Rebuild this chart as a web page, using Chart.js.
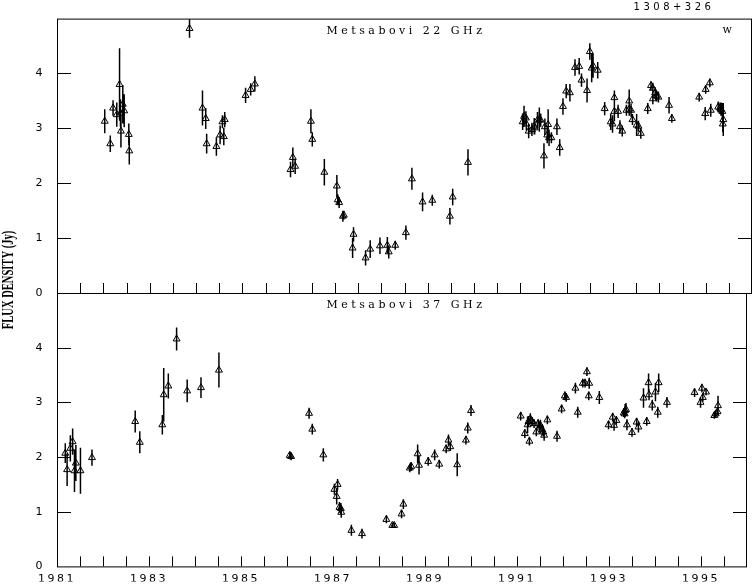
<!DOCTYPE html>
<html>
<head>
<meta charset="utf-8">
<script src="https://cdn.jsdelivr.net/npm/chart.js@4.4.0/dist/chart.umd.min.js"></script>
<style>
  body { margin: 0; background: #fff; }
  #wrap { position: relative; width: 753px; height: 585px; }
  #wrap canvas { position: absolute; left: 0; top: 0; }
</style>
</head>
<body>
<div id="wrap">
  <canvas id="c22" width="753" height="585"></canvas>
  <canvas id="c37" width="753" height="585"></canvas>
</div>
<script>
const sourceName = '1308+326'
const label22 = 'Metsabovi 22 GHz'
const label37 = 'Metsabovi 37 GHz'
const cornerMark = 'w'
const yTitle = 'FLUX DENSITY (Jy)'

// 22 GHz
const yr22 = [1982.03, 1982.15, 1982.21, 1982.29, 1982.35, 1982.37, 1982.38, 1982.42, 1982.45, 1982.55, 1982.56,
  1983.86, 1984.14, 1984.21, 1984.23, 1984.44, 1984.52, 1984.57, 1984.60, 1984.62, 1985.07, 1985.18, 1985.27,
  1986.04, 1986.09, 1986.14, 1986.48, 1986.51, 1986.77, 1987.04, 1987.06, 1987.09, 1987.17, 1987.19, 1987.38,
  1987.40, 1987.66, 1987.76, 1987.97, 1988.13, 1988.16, 1988.30, 1988.53, 1988.66, 1988.89, 1989.10, 1989.48,
  1989.54, 1989.87,
  1991.05, 1991.08, 1991.12, 1991.13, 1991.18, 1991.25, 1991.30, 1991.31, 1991.37, 1991.41, 1991.44, 1991.51,
  1991.53, 1991.58, 1991.60, 1991.62, 1991.67, 1991.79, 1991.85, 1991.92, 1991.99, 1992.07, 1992.18, 1992.27,
  1992.32, 1992.44, 1992.50, 1992.54, 1992.57, 1992.67, 1992.82, 1992.95, 1992.99, 1993.03, 1993.03, 1993.11,
  1993.15, 1993.20, 1993.29, 1993.35, 1993.35, 1993.39, 1993.42, 1993.51, 1993.55, 1993.60, 1993.75, 1993.82,
  1993.86, 1993.86, 1993.91, 1993.94, 1993.98, 1994.21, 1994.27, 1994.86, 1994.99, 1995.00, 1995.09, 1995.11,
  1995.27, 1995.31, 1995.33, 1995.36, 1995.38, 1995.37]
const flux22 = [3.13, 2.72, 3.37, 3.25, 3.80, 3.28, 2.95, 3.44, 3.32, 2.89, 2.59,
  4.82, 3.37, 3.18, 2.72, 2.67, 2.88, 3.12, 2.85, 3.16, 3.60, 3.71, 3.81,
  2.25, 2.47, 2.31, 3.13, 2.80, 2.20, 1.95, 1.70, 1.65, 1.40, 1.42, 0.82,
  1.07, 0.64, 0.80, 0.86, 0.87, 0.75, 0.87, 1.10, 2.08, 1.66, 1.69, 1.40,
  1.75, 2.38,
  3.12, 3.22, 3.19, 3.08, 2.95, 2.98, 3.04, 3.01, 3.15, 3.16, 3.15, 2.50,
  3.03, 2.88, 3.07, 2.83, 2.83, 3.03, 2.65, 3.40, 3.68, 3.65, 4.11, 4.13,
  3.88, 3.69, 4.40, 4.10, 4.14, 4.06, 3.36, 3.12, 3.08, 3.56, 3.31, 3.31,
  3.03, 2.95, 3.33, 3.50, 3.35, 3.33, 3.16, 3.06, 3.04, 2.91, 3.36, 3.78,
  3.73, 3.54, 3.65, 3.59, 3.57, 3.42, 3.18, 3.57, 3.27, 3.71, 3.83, 3.33,
  3.39, 3.37, 3.35, 3.31, 3.16, 3.08]
const err22 = [0.22, 0.15, 0.14, 0.22, 0.66, 0.25, 0.30, 0.35, 0.30, 0.20, 0.25,
  0.17, 0.32, 0.19, 0.18, 0.17, 0.17, 0.12, 0.16, 0.14, 0.14, 0.11, 0.14,
  0.14, 0.18, 0.14, 0.22, 0.13, 0.24, 0.20, 0.10, 0.10, 0.10, 0.08, 0.18,
  0.13, 0.14, 0.16, 0.15, 0.15, 0.12, 0.08, 0.13, 0.20, 0.17, 0.10, 0.15,
  0.15, 0.24,
  0.15, 0.19, 0.12, 0.12, 0.13, 0.12, 0.15, 0.12, 0.15, 0.22, 0.12, 0.23,
  0.15, 0.15, 0.28, 0.15, 0.10, 0.15, 0.15, 0.15, 0.13, 0.16, 0.15, 0.15,
  0.12, 0.22, 0.15, 0.26, 0.22, 0.15, 0.12, 0.15, 0.16, 0.13, 0.18, 0.12,
  0.12, 0.10, 0.10, 0.21, 0.12, 0.12, 0.10, 0.20, 0.10, 0.10, 0.10, 0.08,
  0.10, 0.10, 0.10, 0.10, 0.10, 0.15, 0.08, 0.08, 0.12, 0.08, 0.08, 0.12,
  0.10, 0.10, 0.12, 0.15, 0.30, 0.15]

// 37 GHz
const yr37 = [1981.18, 1981.22, 1981.29, 1981.34, 1981.38, 1981.41, 1981.51, 1981.76, 1982.70, 1982.80,
  1983.29, 1983.32, 1983.42, 1983.60, 1983.83, 1984.13, 1984.52,
  1986.06, 1986.09, 1986.48, 1986.55, 1986.79, 1987.03, 1987.08, 1987.10, 1987.14, 1987.17, 1987.18,
  1987.40, 1987.63, 1988.16, 1988.29, 1988.33, 1988.49, 1988.53, 1988.67, 1988.70, 1988.84, 1988.87,
  1989.07, 1989.21, 1989.31, 1989.46, 1989.51, 1989.55, 1989.70, 1989.89, 1989.93, 1990.00,
  1991.08, 1991.17, 1991.23, 1991.25, 1991.27, 1991.29, 1991.33, 1991.37, 1991.42, 1991.46, 1991.49,
  1991.51, 1991.55, 1991.57, 1991.59, 1991.66, 1991.87, 1991.97, 1992.04, 1992.07, 1992.27, 1992.32,
  1992.43, 1992.48, 1992.52, 1992.56, 1992.57, 1992.79, 1992.99, 1993.08, 1993.11, 1993.16, 1993.32,
  1993.34, 1993.35, 1993.37, 1993.39, 1993.50, 1993.60, 1993.64, 1993.75, 1993.82, 1993.86, 1993.87,
  1993.94, 1994.01, 1994.06, 1994.08, 1994.26, 1994.86, 1994.99, 1995.02, 1995.04, 1995.11, 1995.29,
  1995.32, 1995.36, 1995.37]
const flux37 = [2.07, 1.77, 2.16, 2.28, 1.75, 1.89, 1.75, 1.99, 2.65, 2.27,
  2.59, 3.14, 3.30, 4.16, 3.21, 3.27, 3.59,
  2.03, 2.01, 2.80, 2.51, 2.04, 1.41, 1.28, 1.50, 1.08, 1.06, 0.99,
  0.66, 0.60, 0.86, 0.75, 0.75, 0.96, 1.14, 1.80, 1.83, 2.06, 1.85,
  1.92, 2.04, 1.87, 2.15, 2.31, 2.19, 1.86, 2.31, 2.53, 2.85,
  2.75, 2.43, 2.59, 2.65, 2.29, 2.70, 2.65, 2.61, 2.46, 2.61, 2.55,
  2.58, 2.50, 2.46, 2.40, 2.68, 2.38, 2.88, 3.12, 3.09, 3.26, 2.82,
  3.35, 3.35, 3.56, 3.12, 3.35, 3.09, 2.59, 2.73, 2.58, 2.67, 2.81,
  2.79, 2.85, 2.87, 2.59, 2.45, 2.64, 2.55, 3.08, 2.65, 3.36, 3.14,
  2.95, 3.19, 2.82, 3.36, 3.00, 3.18, 3.00, 3.26, 3.09, 3.19, 2.76,
  2.79, 2.83, 2.94]
const err37 = [0.18, 0.30, 0.24, 0.24, 0.39, 0.33, 0.42, 0.15, 0.20, 0.20,
  0.18, 0.49, 0.23, 0.21, 0.21, 0.19, 0.32,
  0.07, 0.07, 0.10, 0.10, 0.12, 0.10, 0.15, 0.10, 0.10, 0.10, 0.10,
  0.10, 0.09, 0.07, 0.05, 0.05, 0.08, 0.09, 0.08, 0.08, 0.17, 0.17,
  0.08, 0.10, 0.08, 0.08, 0.10, 0.08, 0.21, 0.08, 0.10, 0.10,
  0.08, 0.08, 0.15, 0.10, 0.08, 0.10, 0.08, 0.08, 0.08, 0.08, 0.10,
  0.10, 0.10, 0.08, 0.10, 0.08, 0.10, 0.08, 0.08, 0.08, 0.10, 0.10,
  0.08, 0.08, 0.08, 0.08, 0.10, 0.12, 0.08, 0.08, 0.10, 0.08, 0.08,
  0.08, 0.12, 0.12, 0.10, 0.08, 0.08, 0.10, 0.18, 0.08, 0.17, 0.10,
  0.10, 0.17, 0.10, 0.17, 0.10, 0.08, 0.10, 0.08, 0.08, 0.06, 0.06,
  0.06, 0.06, 0.18]

const fluxTicks = [0, 1, 2, 3, 4]
const yearLabels = [1981, 1983, 1985, 1987, 1989, 1991, 1993, 1995]
const yearMin = 1981
const yearMax = 1996
const fluxMax = 5
const minorStep = 0.5

Chart.defaults.font.family = 'DejaVu Sans'
Chart.defaults.font.size = 11
Chart.defaults.color = '#000'

function toPoints(xs, ys, es) {
    return xs.map((x, i) => ({ x: x, y: ys[i], e: es[i] }))
}

// frame, inward ticks, error bars, panel texts
const panelPlugin = {
    id: 'panel',
    beforeDraw(chart) {
        chart.ctx.letterSpacing = '2.5px'
    },
    beforeDatasetsDraw(chart) {
        let ctx = chart.ctx
        let xs = chart.scales.x, ys = chart.scales.y
        ctx.save()
        ctx.strokeStyle = '#000'
        ctx.lineWidth = 1.5
        ctx.beginPath()
        chart.data.datasets[0].data.forEach(p => {
            let px = xs.getPixelForValue(p.x)
            ctx.moveTo(px, ys.getPixelForValue(p.y - p.e))
            ctx.lineTo(px, ys.getPixelForValue(p.y + p.e))
        })
        ctx.stroke()
        ctx.restore()
    },
    afterDraw(chart, args, opts) {
        let ctx = chart.ctx
        let a = chart.chartArea
        let xs = chart.scales.x, ys = chart.scales.y
        ctx.save()
        ctx.strokeStyle = '#000'
        ctx.lineWidth = 1
        ctx.strokeRect(a.left + 0.5, a.top + 0.5, a.right - a.left - 1, a.bottom - a.top)
        ctx.beginPath()
        fluxTicks.forEach(v => {
            if (v <= 0) return
            let py = Math.round(ys.getPixelForValue(v)) + 0.5
            ctx.moveTo(a.left, py); ctx.lineTo(a.left + 14, py)
            ctx.moveTo(a.right - 14, py); ctx.lineTo(a.right, py)
        })
        for (let t = yearMin + minorStep; t < yearMax; t += minorStep) {
            let px = Math.round(xs.getPixelForValue(t)) + 0.5
            ctx.moveTo(px, a.bottom); ctx.lineTo(px, a.bottom - 10)
        }
        ctx.stroke()

        ctx.fillStyle = '#000'
        ctx.letterSpacing = '3.5px'
        ctx.font = '11px "DejaVu Serif"'
        ctx.textAlign = 'center'
        ctx.textBaseline = 'alphabetic'
        ctx.fillText(opts.label, 406, a.top + 15)
        if (opts.top) {
            ctx.fillText(cornerMark, 729, a.top + 14)
            ctx.font = '10px "DejaVu Sans"'
            ctx.fillText(sourceName, 674, 10)

            ctx.letterSpacing = '0px'
            ctx.translate(13, 280)
            ctx.rotate(-Math.PI / 2)
            ctx.scale(0.62, 1)
            ctx.font = 'bold 17px "Liberation Serif"'
            ctx.fillText(yTitle, 0, 0)
        }
        ctx.restore()
    }
}

function makeChart(id, points, label, isTop) {
    let ctx = document.getElementById(id).getContext('2d')
    let config = {
        type: 'scatter',
        data: {
            datasets: [{
                data: points,
                pointStyle: 'triangle',
                pointRadius: 4,
                borderWidth: 1,
                borderColor: '#000',
                backgroundColor: 'rgba(0,0,0,0)'
            }]
        },
        options: {
            responsive: false,
            animation: false,
            events: [],
            layout: {
                autoPadding: false,
                padding: isTop ? { top: 15, bottom: 292, left: 0, right: 1 } : { top: 293, bottom: 0, left: 0, right: 1 }
            },
            plugins: {
                legend: { display: false },
                tooltip: { enabled: false },
                panel: { label: label, top: isTop }
            },
            scales: {
                x: {
                    type: 'linear',
                    min: yearMin,
                    max: yearMax,
                    display: !isTop,
                    grid: { display: false, drawTicks: false },
                    border: { display: false },
                    afterFit: s => { if (!isTop) s.height = 15 },
                    ticks: {
                        stepSize: minorStep,
                        autoSkip: false,
                        maxRotation: 0,
                        minRotation: 0,
                        padding: 6,
                        callback: v => yearLabels.includes(v) ? String(v) : ''
                    }
                },
                y: {
                    min: 0,
                    max: fluxMax,
                    grid: { display: false, drawTicks: false },
                    border: { display: false },
                    afterFit: s => { s.width = 57 },
                    ticks: {
                        stepSize: 1,
                        padding: 12,
                        callback: v => fluxTicks.includes(v) ? String(v) : ''
                    }
                }
            }
        },
        plugins: [panelPlugin]
    }
    return new Chart(ctx, config)
}

console.log('creating charts')
window.chart22 = makeChart('c22', toPoints(yr22, flux22, err22), label22, true)
window.chart37 = makeChart('c37', toPoints(yr37, flux37, err37), label37, false)
</script>
</body>
</html>
